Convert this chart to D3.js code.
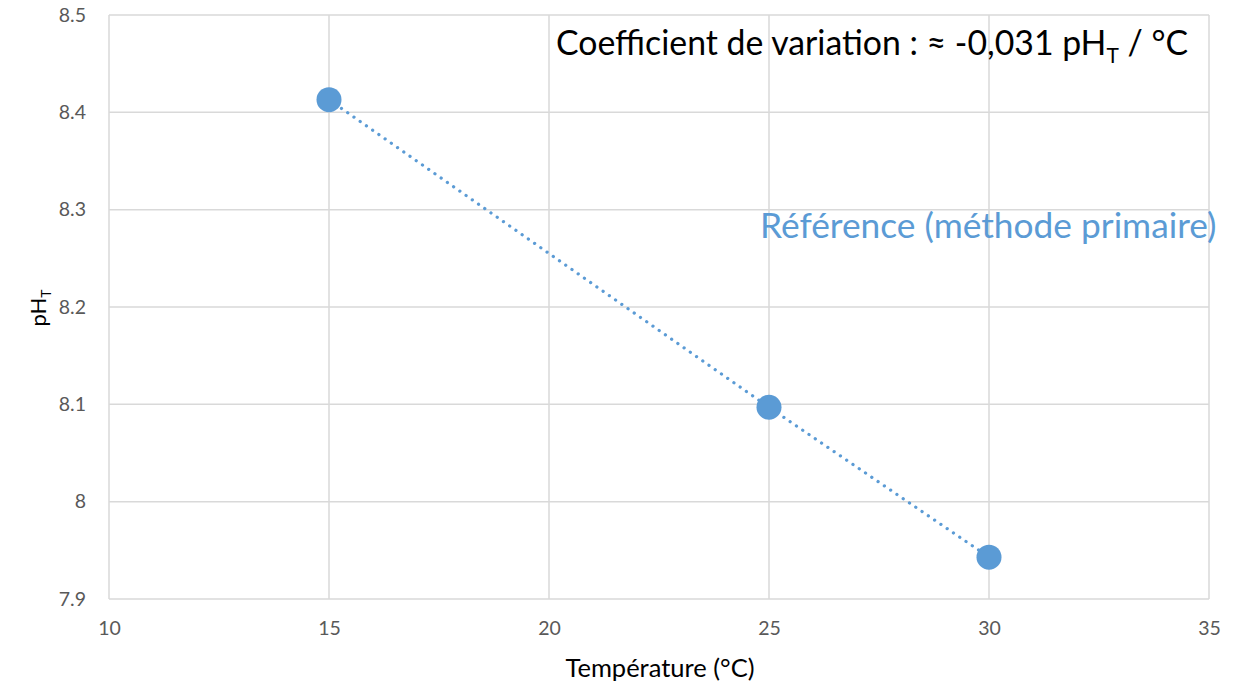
<!DOCTYPE html>
<html><head><meta charset="utf-8">
<script src="https://cdn.jsdelivr.net/npm/d3@7"></script>
<style>body{margin:0;background:#fff}svg{display:block}text{font-family:Lato,"Open Sans",sans-serif}</style>
</head><body>
<svg id="c" width="1240" height="684"></svg>
<script>
const temperatures = [15, 25, 30];
const phValues = [8.413, 8.097, 7.943];
const xTicks = [10, 15, 20, 25, 30, 35];
const yTicks = [7.9, 8, 8.1, 8.2, 8.3, 8.4, 8.5];
const seriesName = "Référence (méthode primaire)";
const color = "#5B9BD5";

const svg = d3.select("#c");
const x = d3.scaleLinear().domain([10, 35]).range([109, 1209]);
const y = d3.scaleLinear().domain([7.9, 8.5]).range([599, 15]);

const grid = svg.append("g");
grid.selectAll(".vx").data(xTicks).join("line")
  .attr("x1", d => x(d)).attr("x2", d => x(d)).attr("y1", y(8.5)).attr("y2", y(7.9))
  .attr("stroke", "#d9d9d9").attr("stroke-width", 1.5);
grid.selectAll(".hy").data(yTicks).join("line")
  .attr("y1", d => y(d)).attr("y2", d => y(d)).attr("x1", x(10)).attr("x2", x(35))
  .attr("stroke", "#d9d9d9").attr("stroke-width", 1.5);

const xAxis = svg.append("g").attr("transform", `translate(0,${y(7.9)})`)
  .call(d3.axisBottom(x).tickValues(xTicks).tickSize(0).tickPadding(22).tickFormat(d3.format("d")));
const yAxis = svg.append("g").attr("transform", `translate(${x(10)},0)`)
  .call(d3.axisLeft(y).tickValues(yTicks).tickSize(0).tickPadding(23).tickFormat(d => d === 8 ? "8" : d3.format(".1f")(d)));
[xAxis, yAxis].forEach(a => {
  a.select(".domain").remove();
  a.selectAll("text").attr("fill", "#595959").style("font-size", "19.5px").style("font-family", "Lato,sans-serif");
});

const pts = temperatures.map((t, i) => [t, phValues[i]]);
svg.append("path").datum(pts)
  .attr("d", d3.line().x(d => x(d[0])).y(d => y(d[1])))
  .attr("fill", "none").attr("stroke", color).attr("stroke-width", 3.2)
  .attr("stroke-linecap", "round").attr("stroke-dasharray", "0.1 7.5");
svg.selectAll(".pt").data(pts).join("circle")
  .attr("cx", d => x(d[0])).attr("cy", d => y(d[1])).attr("r", 12.5).attr("fill", color);

svg.append("text").attr("x", 660).attr("y", 677).attr("text-anchor", "middle")
  .attr("fill", "#000").style("font-size", "25.5px").text("Température (°C)");

const yt = svg.append("text").attr("transform", "translate(46,308) rotate(-90)")
  .attr("text-anchor", "middle").attr("fill", "#000").style("font-size", "22px");
yt.append("tspan").text("pH");
yt.append("tspan").attr("dy", 5).style("font-size", "14px").text("T");

const t = svg.append("text").attr("x", 556).attr("y", 55).attr("fill", "#000").style("font-size", "33.8px");
t.append("tspan").text("Coefficient de variation : ≈ -0,031 pH");
t.append("tspan").attr("dy", 8).style("font-size", "21px").text("T");
t.append("tspan").attr("dy", -8).text(" / °C");

svg.append("text").attr("x", 760).attr("y", 238).attr("fill", color).style("font-size", "35.3px").text(seriesName);
</script>
</body></html>
